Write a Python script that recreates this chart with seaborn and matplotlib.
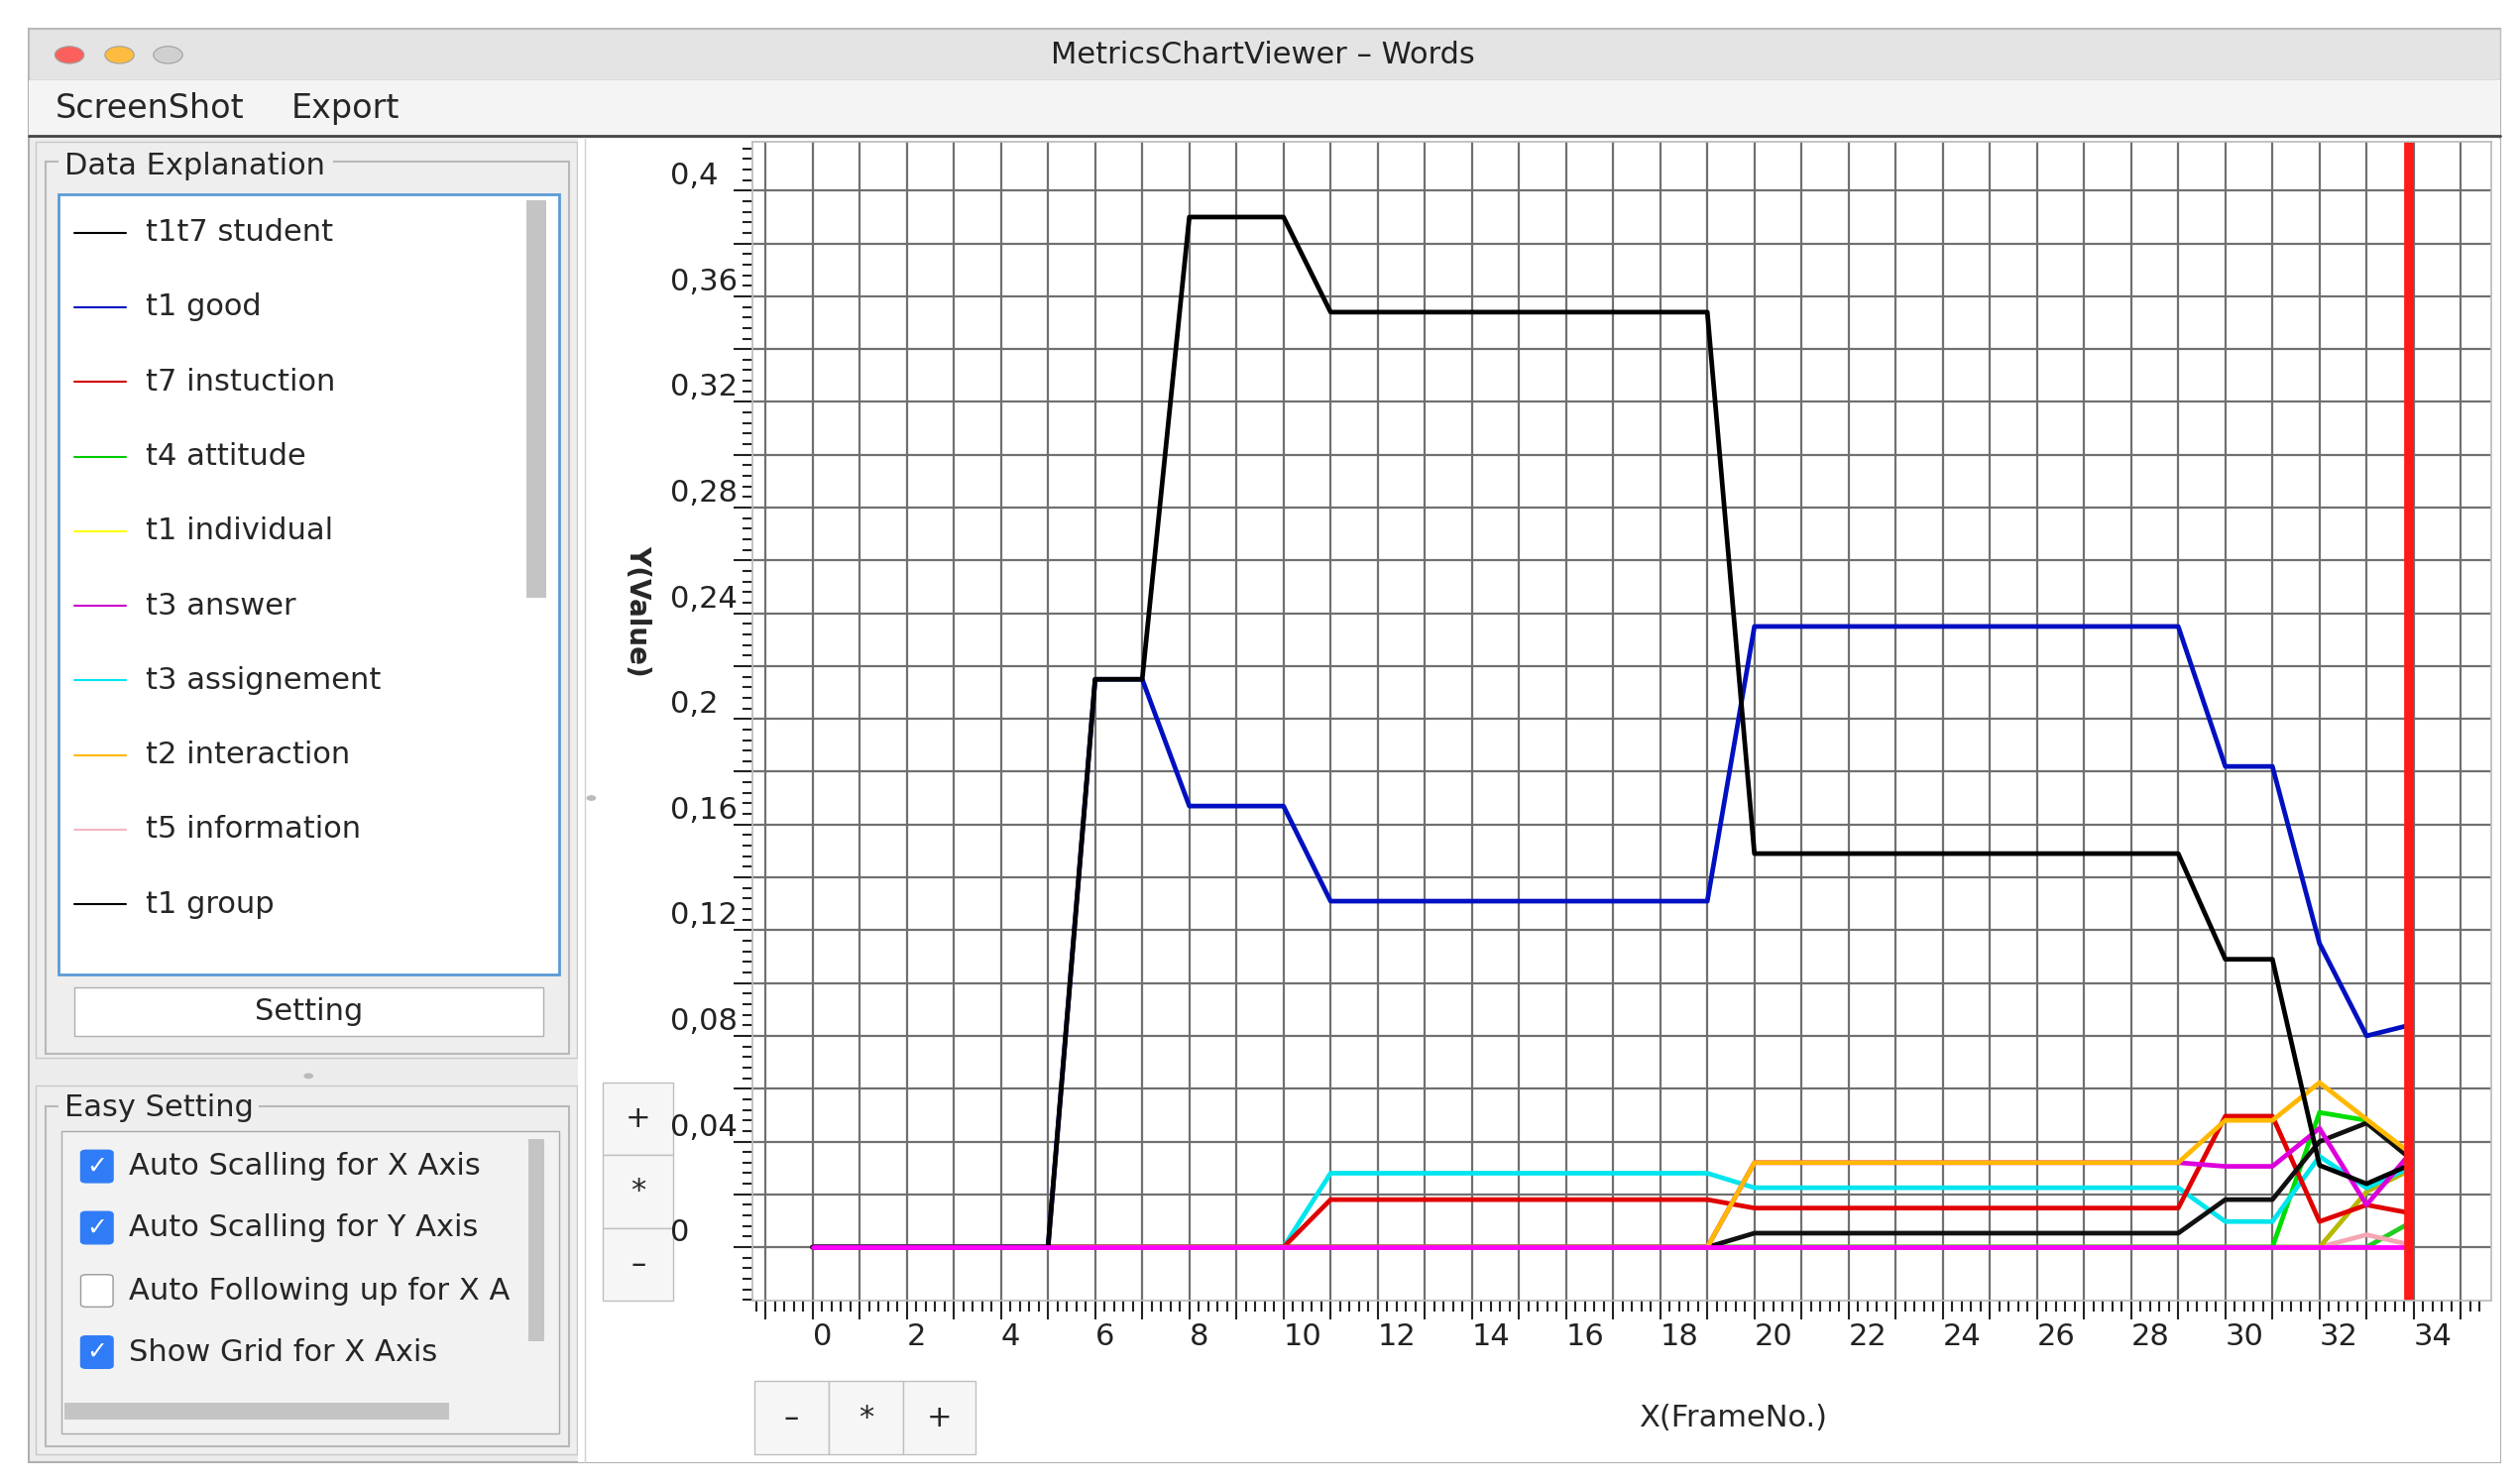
import matplotlib
matplotlib.use("Agg")
import matplotlib.pyplot as plt
import seaborn as sns
import pandas as pd
import numpy as np
from matplotlib.patches import Rectangle, FancyBboxPatch, Circle
from matplotlib.lines import Line2D

# ---------------- data ----------------
frames = list(range(34)) + [33.9]
t1t7_student = [0]*6 + [.215, .215, .39, .39, .39] + [.354]*9 + [.149]*10 + [.109, .109, .031, .024, .031]
t1_good = [0]*6 + [.215, .215, .167, .167, .167] + [.131]*9 + [.235]*10 + [.182, .182, .115, .080, .084]
t7_instuction = [0]*11 + [.018]*9 + [.0148]*10 + [.0496, .0496, .0097, .016, .013]
t3_assignement = [0]*11 + [.028]*9 + [.0225]*10 + [.0097, .0097, .0344, .0224, .030]
t2_interaction = [0]*20 + [.032]*10 + [.048, .048, .0623, .0484, .036]
t1_group = [0]*20 + [.0053]*10 + [.018, .018, .040, .047, .034]
t3_answer = [0]*20 + [.032]*10 + [.0306, .0306, .045, .016, .035]
t4_attitude = [0]*32 + [.051, .048, .034]
t1_individual = [0]*33 + [.021, .029]
t5_information = [0]*33 + [.0047, .001]
t2_extra = [0]*34 + [.009]
baseline = [0]*35

series = [
    ("t2 extra", t2_extra, "#22cc22"),
    ("t5 information", t5_information, "#f4a6b4"),
    ("t1 individual", t1_individual, "#b8b800"),
    ("t4 attitude", t4_attitude, "#00dd00"),
    ("t3 assignement", t3_assignement, "#00e5ee"),
    ("t7 instuction", t7_instuction, "#e00000"),
    ("t1 group", t1_group, "#111111"),
    ("t3 answer", t3_answer, "#dd00dd"),
    ("t2 interaction", t2_interaction, "#ffb800"),
    ("t1 good", t1_good, "#0010c0"),
    ("t1t7 student", t1t7_student, "#000000"),
    ("baseline", baseline, "#ff00ff"),
]
legend_names = ["t1t7 student", "t1 good", "t7 instuction", "t4 attitude", "t1 individual",
                "t3 answer", "t3 assignement", "t2 interaction", "t5 information", "t1 group"]
legend_colors = ["#000000", "#0010c0", "#d00000", "#00cc00", "#ffff00",
                 "#cc00cc", "#00e5ee", "#ffb800", "#f4b6c4", "#000000"]
x_labels = list(range(0, 35, 2))
y_ticks = [0, .04, .08, .12, .16, .2, .24, .28, .32, .36, .4]
y_labels = ["0", "0,04", "0,08", "0,12", "0,16", "0,2", "0,24", "0,28", "0,32", "0,36", "0,4"]

df = pd.DataFrame([(n, f, v) for n, vals, c in series for f, v in zip(frames, vals)],
                  columns=["series", "frame", "value"])

# ---------------- figure ----------------
sns.set_theme(style="white")
plt.rcParams['font.family'] = ['DejaVu Sans']
fig = plt.figure(figsize=(25.42, 14.97), dpi=100)
W, H = 1560.0, 918.6
FS = 22
def fx(x): return x / W
def fy(y): return 1 - y / H
def rect(x0, y0, x1, y1, **kw):
    fig.add_artist(Rectangle((fx(x0), fy(y1)), (x1 - x0) / W, (y1 - y0) / H,
                             transform=fig.transFigure, **kw))
def txt(x, y, s, **kw):
    kw.setdefault("va", "center")
    kw.setdefault("fontsize", FS)
    fig.text(fx(x), fy(y), s, **kw)
def line(x0, y0, x1, y1, **kw):
    fig.add_artist(Line2D([fx(x0), fx(x1)], [fy(y0), fy(y1)], transform=fig.transFigure, **kw))

# window
rect(18, 18, 1548, 905, facecolor="#ececec", edgecolor="#b0b0b0", lw=1.5)
rect(18, 18, 1548, 50, facecolor="#e4e4e4", edgecolor="#c0c0c0", lw=1)
for cx, col in [(43, "#fc605c"), (74, "#fdbc40"), (104, "#d0d0d0")]:
    fig.add_artist(Circle((fx(cx), fy(34)), 9 / W, transform=fig.transFigure,
                          facecolor=col, edgecolor="#a0a0a0", lw=0.8))
txt(782, 34, "MetricsChartViewer – Words", ha="center", fontsize=22, color="#222222")
rect(18, 50, 1548, 84, facecolor="#f4f4f4", edgecolor="none")
line(18, 84, 1548, 84, color="#444444", lw=2)
txt(34, 67, "ScreenShot", ha="left", fontsize=24)
txt(180, 67, "Export", ha="left", fontsize=24)

# left panel: Data Explanation
rect(22, 88, 357, 655, facecolor="#eeeeee", edgecolor="#c8c8c8", lw=1)
rect(28, 100, 352, 652, facecolor="none", edgecolor="#b8b8b8", lw=1.5)
rect(36, 92, 206, 112, facecolor="#eeeeee", edgecolor="none")
txt(40, 103, "Data Explanation", ha="left")
rect(36, 120, 346, 603, facecolor="white", edgecolor="#5b9bd5", lw=2)
rect(326, 124, 338, 370, facecolor="#c4c4c4", edgecolor="none")
for i, (n, c) in enumerate(zip(legend_names, legend_colors)):
    yy = 144 + 46.2 * i
    line(46, yy, 78, yy, color=c, lw=1.5)
    txt(90, yy, n, ha="left")
rect(46, 611, 336, 641, facecolor="white", edgecolor="#b0b0b0", lw=1)
txt(191, 626, "Setting", ha="center")
fig.add_artist(Circle((fx(191), fy(666)), 3 / W, transform=fig.transFigure, facecolor="#bbbbbb", edgecolor="none"))

# Easy Setting
rect(22, 672, 357, 900, facecolor="#eeeeee", edgecolor="#c8c8c8", lw=1)
rect(28, 685, 352, 895, facecolor="none", edgecolor="#b8b8b8", lw=1.5)
rect(36, 676, 160, 696, facecolor="#eeeeee", edgecolor="none")
txt(40, 686, "Easy Setting", ha="left")
rect(38, 700, 346, 887, facecolor="#f2f2f2", edgecolor="#aaaaaa", lw=1)
rect(327, 705, 337, 830, facecolor="#c4c4c4", edgecolor="none")
rect(40, 868, 278, 879, facecolor="#c4c4c4", edgecolor="none")
checks = [("Auto Scalling for X Axis", True), ("Auto Scalling for Y Axis", True),
          ("Auto Following up for X A", False), ("Show Grid for X Axis", True)]
for i, (lab, on) in enumerate(checks):
    yy = [722, 760, 799, 837][i]
    fig.add_artist(FancyBboxPatch((fx(50), fy(yy + 10)), 20 / W, 20 / H,
                                  boxstyle="round,pad=0,rounding_size=0.002", transform=fig.transFigure,
                                  facecolor="#2f7cf6" if on else "white",
                                  edgecolor="#2f7cf6" if on else "#999999", lw=1))
    if on:
        txt(60, yy, "✓", ha="center", color="white", fontsize=18, fontweight="bold")
    txt(80, yy, lab, ha="left")

# plot panel
rect(358, 86, 1548, 905, facecolor="white", edgecolor="none")
line(362, 86, 362, 905, color="#d0d0d0", lw=1)
fig.add_artist(Circle((fx(366), fy(494)), 3 / W, transform=fig.transFigure, facecolor="#bbbbbb", edgecolor="none"))
for (y0, y1, s) in [(670, 715, "+"), (715, 760, "*"), (760, 805, "–")]:
    rect(373, y0, 417, y1, facecolor="#f6f6f6", edgecolor="#c0c0c0", lw=1)
    txt(395, (y0 + y1) / 2, s, ha="center", fontsize=22)
for (x0, x1, s) in [(467, 513, "–"), (513, 559, "*"), (559, 604, "+")]:
    rect(x0, 855, x1, 900, facecolor="#f6f6f6", edgecolor="#c0c0c0", lw=1)
    txt((x0 + x1) / 2, 878, s, ha="center", fontsize=22)
txt(1073, 878, "X(FrameNo.)", ha="center")
txt(395, 378, "Y(Value)", ha="center", rotation=-90, fontsize=20, fontweight="bold")

# ---------------- axes ----------------
ax = fig.add_axes([fx(466), fy(805), (1542 - 466) / W, (805 - 88) / H])
ax.set_zorder(10)
pal = {n: c for n, v, c in series}
sns.lineplot(data=df, x="frame", y="value", hue="series", hue_order=[s[0] for s in series],
             palette=pal, estimator=None, sort=False, legend=False, lw=3.4, ax=ax)
ax.axvline(33.9, color="#ff1a1a", lw=7)
ax.set_xlim(-1.27, 35.64)
ax.set_ylim(-(805 - 772) / 1635, (772 - 88) / 1635)
ax.set_xticks(np.arange(-1, 36), minor=False)
ax.set_xticks(np.arange(-1.2, 35.6, 0.2), minor=True)
ax.set_xticklabels([str(int(t)) if (t in x_labels) else "" for t in np.arange(-1, 36)])
for lab in ax.get_xticklabels():
    lab.set_horizontalalignment("left")
ax.set_yticks(np.arange(0, 0.42, 0.02))
ax.set_yticks(np.arange(-0.02, 0.42, 0.004), minor=True)
yl = [round(v, 2) for v in y_ticks]
ax.set_yticklabels([y_labels[yl.index(round(t, 2))] if round(t, 2) in yl else ""
                    for t in np.arange(0, 0.42, 0.02)])
for lab in ax.get_yticklabels():
    lab.set_horizontalalignment("left")
    lab.set_verticalalignment("bottom")
ax.tick_params(bottom=True, left=True, which="both")
ax.tick_params(axis="x", which="major", direction="out", length=14, width=1.5, labelsize=FS, pad=2, colors="#222222")
ax.tick_params(axis="x", which="minor", direction="out", length=8, width=1.5, colors="#222222")
ax.tick_params(axis="y", which="major", direction="out", length=14, width=1.5, labelsize=FS, pad=46, colors="#222222")
ax.tick_params(axis="y", which="minor", direction="out", length=7, width=1.5, colors="#222222")
ax.grid(True, which="major", color="#707070", lw=1.6)
for sp in ax.spines.values():
    sp.set_color("#bbbbbb")
ax.set_xlabel("")
ax.set_ylabel("")
ax.set_axisbelow(True)

fig.savefig("out.png", dpi=100)
